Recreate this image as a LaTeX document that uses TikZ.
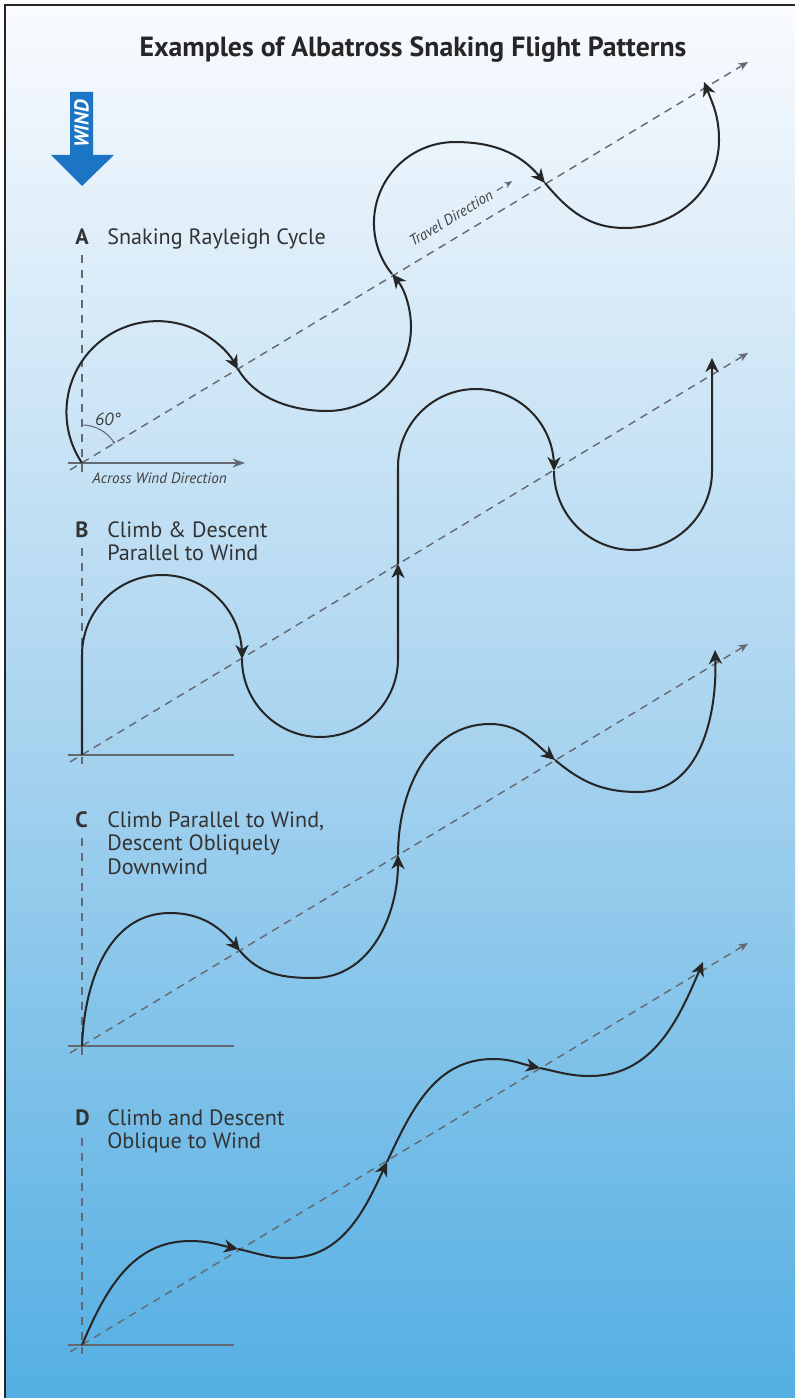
\documentclass[tikz,border=0pt]{standalone}
\usepackage{fontspec}
\setmainfont{PT Sans}
\usetikzlibrary{arrows.meta,positioning,calc}

\definecolor{windblue}{RGB}{28,117,196}
\definecolor{skytop}{RGB}{249,251,254}
\definecolor{skymid}{RGB}{172,213,240}
\definecolor{skybot}{RGB}{84,175,227}
\definecolor{guide}{RGB}{100,104,112}

\newcommand{\flightlabel}[2]{\makebox[18.2pt][l]{\bfseries #1}\begin{tabular}[t]{@{}l@{}}#2\end{tabular}}

\begin{document}
\begin{tikzpicture}[x=0.02cm,y=0.02cm,
	flight/.style={line width=1.15pt,black!85,line join=round},
	flightarrow/.style={-{Stealth[length=8pt,width=7.5pt,inset=2.5pt]}},
	travel/.style={guide,line width=0.8pt,dash pattern=on 4.5pt off 3.4pt,-{Stealth[length=5.5pt,width=4.5pt]}},
	windline/.style={guide,line width=0.8pt,dash pattern=on 4.5pt off 4pt},
	ground/.style={guide,line width=0.8pt},
	panel/.style={anchor=base west,inner sep=0pt,text=black!80,font=\fontsize{12.6}{13.4}\selectfont}]

	\useasboundingbox (0,0) rectangle (795,-1398);
	\fill[white] (0,0) rectangle (795,-1398);
	\shade[top color=skytop,bottom color=skybot,middle color=skymid] (6,-6) rectangle (795,-1398);
	\draw[line width=1.6pt,black!85] (5,-1398) -- (5,-5) -- (795,-5);

	\node[anchor=base,font=\bfseries\fontsize{15.8}{18}\selectfont,text=black!85] (title) at (413,-57) {Examples of Albatross Snaking Flight Patterns};

	% wind
	\fill[windblue] (70,-92) -- (93,-92) -- (93,-155) -- (114,-155) -- (82,-186) -- (51,-155) -- (70,-155) -- cycle;
	\node[rotate=90,text=white,font=\bfseries\itshape\fontsize{11.5}{12}\selectfont] (wind) at (81.5,-124) {WIND};

	\coordinate (oA) at (82,-463);
	\coordinate (eA) at (748,-62);
	\coordinate (oB) at (82,-755);
	\coordinate (eB) at (748,-353);
	\coordinate (oC) at (82,-1046);
	\coordinate (eC) at (748,-644);
	\coordinate (oD) at (82,-1345);
	\coordinate (eD) at (748,-943);

	\node[panel] (labA) at (75,-245) {\flightlabel{A}{Snaking Rayleigh Cycle}};
	\node[panel] (labB) at (75,-537) {\flightlabel{B}{Climb \& Descent\\Parallel to Wind}};
	\node[panel] (labC) at (75,-827) {\flightlabel{C}{Climb Parallel to Wind,\\Descent Obliquely\\Downwind}};
	\node[panel] (labD) at (75,-1125) {\flightlabel{D}{Climb and Descent\\Oblique to Wind}};

	% guides
	\draw[windline] (82,-255) -- ($(oA)+(0,-9)$);
	\draw[windline] (82,-548) -- ($(oB)+(0,-9)$);
	\draw[windline] (82,-838) -- ($(oC)+(0,-9)$);
	\draw[windline] (82,-1138) -- ($(oD)+(0,-9)$);
	\draw[ground,-{Stealth[length=7pt,width=5pt]}] (68,-463) -- (245,-463);
	\draw[ground] (68,-755) -- (234,-755);
	\draw[ground] (68,-1046) -- (234,-1046);
	\draw[ground] (68,-1345) -- (234,-1345);
	\draw[travel] ($(oA)+(-12,-7)$) -- (eA);
	\draw[travel] ($(oB)+(-12,-7)$) -- (eB);
	\draw[travel] ($(oC)+(-12,-7)$) -- (eC);
	\draw[travel] ($(oD)+(-12,-7)$) -- (eD);

	\node[anchor=base west,inner sep=0pt,text=black!75,font=\itshape\fontsize{8.6}{10}\selectfont] (across) at (92,-483) {Across Wind Direction};
	\node[rotate=31,inner sep=1pt,text=black!75,font=\itshape\fontsize{8.5}{10}\selectfont] (trav) at (451,-218) {Travel Direction};
	\draw[guide,line width=0.7pt,dash pattern=on 4pt off 2.5pt,-{Stealth[length=4.5pt,width=3.5pt]}] ([shift={(31:4)}]trav.east) -- ++(31:18);
	\node[text=black!75,font=\itshape\fontsize{10}{12}\selectfont] (ang) at (108,-419) {60°};
	\draw[guide,line width=0.6pt] ($(oA)+(0,38)$) arc[start angle=90,end angle=33,radius=38];
	\fill[guide] ($(oA)+(33:38)$) circle (1.4);

	% A
	\draw[flight,flightarrow] (oA) arc[start angle=214,end angle=28,radius=91];
	\draw[flight,flightarrow] (238,-369) to[out=-60,in=180,looseness=0.9] (327,-411) arc[start angle=270,end angle=399,radius=84];
	\draw[flight,flightarrow] (392,-274) arc[start angle=219,end angle=90,radius=81] to[out=0,in=130] (545,-183);
	\draw[flight,flightarrow] (545,-183) to[out=-50,in=180] (625,-228) to[out=0,in=-90] (719,-140) to[out=90,in=-68] (704,-82);

	% B
	\draw[flight,flightarrow] (oB) -- (82,-655) arc[start angle=180,end angle=0,radius=80] -- (242,-659);
	\draw[flight,flightarrow] (242,-659) arc[start angle=180,end angle=360,radius=78] -- (398,-564);
	\draw[flight,flightarrow] (398,-564) -- (398,-467) arc[start angle=180,end angle=0,radius=78] -- (554,-471);
	\draw[flight,flightarrow] (554,-471) arc[start angle=180,end angle=360,radius=79] -- (712,-358);

	% C
	\draw[flight,flightarrow] (oC) to[out=88,in=180] (170,-913) to[out=0,in=130] (240,-951);
	\draw[flight,flightarrow] (240,-951) to[out=-50,in=180] (313,-978) to[out=0,in=-90] (398,-855);
	\draw[flight,flightarrow] (398,-855) to[out=90,in=180] (490,-724) to[out=0,in=140] (555,-760);
	\draw[flight,flightarrow] (555,-760) to[out=-40,in=180] (638,-792) to[out=0,in=-88] (715,-650);

	% D
	\draw[flight,flightarrow] (oD) to[out=67,in=180] (190,-1241) to[out=0,in=168] (238,-1249);
	\draw[flight,flightarrow] (238,-1249) to[out=-12,in=180] (288,-1258) to[out=0,in=245] (387,-1162);
	\draw[flight,flightarrow] (387,-1162) to[out=65,in=180] (493,-1059) to[out=0,in=168] (540,-1068);
	\draw[flight,flightarrow] (540,-1068) to[out=-12,in=180] (590,-1076) to[out=0,in=247] (703,-962);
\end{tikzpicture}
\end{document}
